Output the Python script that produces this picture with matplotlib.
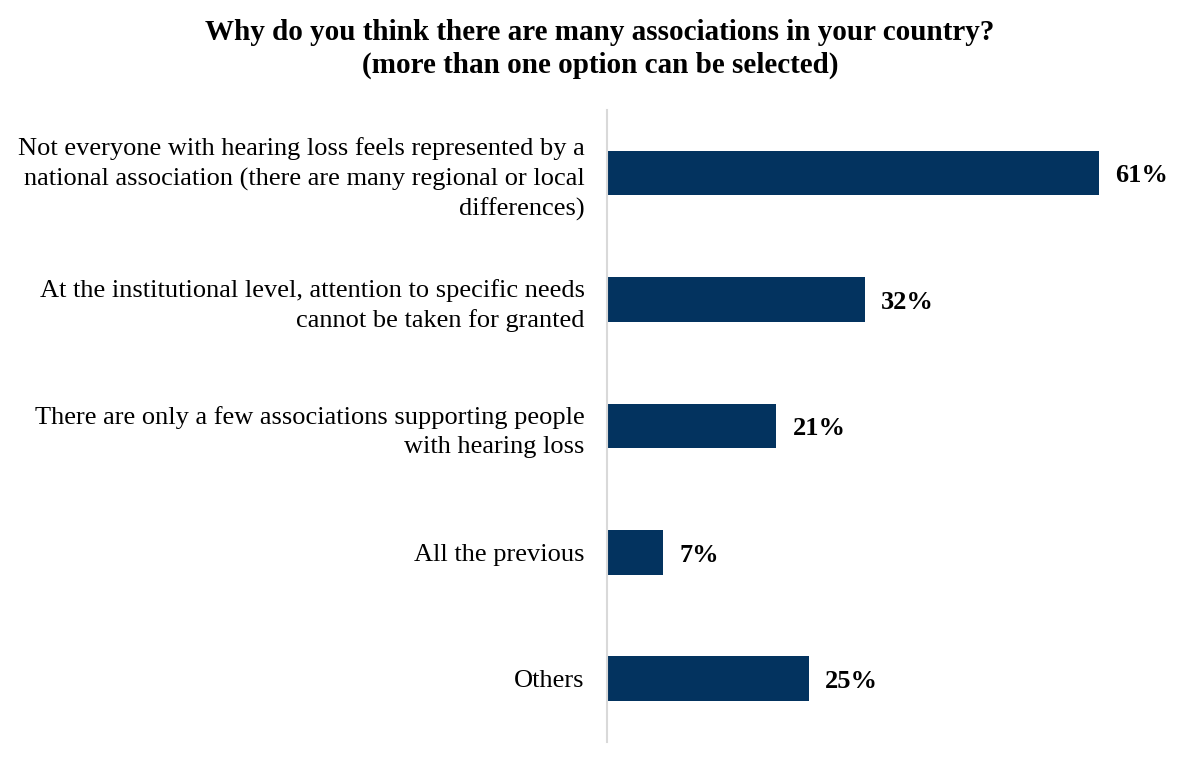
import matplotlib.pyplot as plt
import numpy as np

categories = [
    'Not everyone with hearing loss feels represented by a\nnational association (there are many regional or local\ndifferences)',
    'At the institutional level, attention to specific needs\ncannot be taken for granted',
    'There are only a few associations supporting people\nwith hearing loss',
    'All the previous',
    'Others',
]
values = [61, 32, 21, 7, 25]
value_labels = ['61%', '32%', '21%', '7%', '25%']

plt.rcParams['font.family'] = ['Liberation Serif', 'DejaVu Serif']

fig = plt.figure(figsize=(11.9, 7.62), dpi=100)
ax = fig.add_axes([0.510, 0.026, 0.475, 0.830])

y = np.arange(len(categories))
ax.barh(y, values, height=0.355, color='#03335f')

for yi, v, lab in zip(y, values, value_labels):
    ax.annotate(lab, xy=(v, yi), xytext=(11.5, -2), textcoords='offset points',
                ha='left', va='center', fontsize=19, fontweight='bold')

ax.set_yticks(y)
ax.set_yticklabels(categories, fontsize=19, linespacing=1.4)
ax.tick_params(axis='y', length=0, pad=16)
ax.set_xticks([])
ax.set_xlim(0, 70)
ax.set_ylim(len(categories) - 0.5, -0.5)

for s in ['top', 'right', 'bottom']:
    ax.spines[s].set_visible(False)
ax.spines['left'].set_color('#d9d9d9')
ax.spines['left'].set_linewidth(1.5)

fig.suptitle('Why do you think there are many associations in your country?\n(more than one option can be selected)',
             x=0.504, y=0.975, fontsize=21, fontweight='bold', linespacing=1.26)

plt.savefig('out.png', format='png')
